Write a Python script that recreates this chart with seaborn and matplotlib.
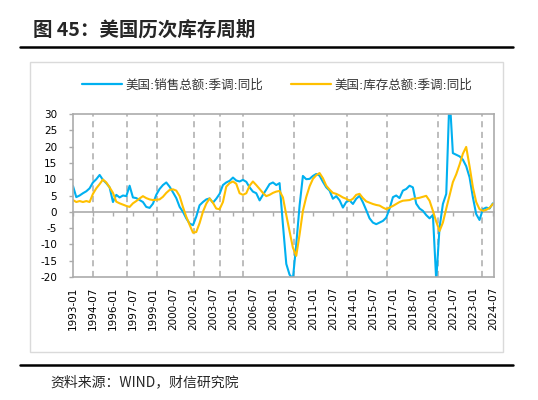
import numpy as np
import pandas as pd
import matplotlib
matplotlib.use('Agg')
import matplotlib.pyplot as plt
import matplotlib.dates as mdates
from matplotlib.lines import Line2D
import seaborn as sns

# квартальные точки: 1993-01 ... 2024-07
months = pd.date_range('1993-01-01', '2024-07-01', freq='3MS')

sales = [7.9, 4.5, 5.0, 5.7, 6.3, 7.2, 9.0, 10.0, 11.3, 9.8, 8.8, 7.5,
         3.0, 5.2, 4.4, 5.0, 4.8, 8.0, 4.4, 4.2, 3.6, 3.0, 1.5, 1.2,
         2.5, 5.2, 7.0, 8.2, 9.0, 7.7, 6.0, 4.2, 1.5, 0.0, -2.0, -3.6,
         -4.1, -1.5, 2.0, 3.0, 3.8, 4.1, 2.8, 4.0, 5.5, 8.2, 9.0, 9.5,
         10.5, 9.6, 9.3, 9.8, 9.2, 7.5, 6.2, 5.7, 3.5, 5.2, 6.8, 8.5,
         9.0, 8.2, 8.8, -4.0, -16.0, -19.3, -20.5, -10.0, 2.0, 11.0, 10.0, 10.1,
         11.0, 11.6, 11.1, 9.2, 7.5, 6.5, 4.0, 4.8, 3.5, 1.3, 3.0, 3.5,
         2.4, 4.0, 4.9, 2.9, 0.5, -2.0, -3.3, -3.8, -3.3, -2.8, -1.8, 1.0,
         4.5, 5.0, 4.2, 6.5, 7.0, 8.0, 7.5, 2.5, 1.0, 0.3, -1.0, -2.0,
         -1.0, -21.0, -4.8, 2.4, 5.5, 36.0, 18.0, 17.5, 17.0, 16.0, 14.0, 10.6,
         4.4, -0.7, -2.5, 0.8, 1.3, 1.0, 2.6]

stock = [3.6, 3.0, 3.3, 3.0, 3.3, 3.0, 5.5, 7.2, 8.5, 9.9, 9.0, 7.5,
         5.8, 3.1, 2.6, 2.2, 1.8, 1.5, 2.6, 3.3, 4.1, 4.8, 4.2, 3.8,
         3.6, 3.7, 3.8, 4.6, 5.8, 6.7, 6.9, 6.5, 4.8, 1.5, -1.5, -4.0,
         -6.4, -6.2, -3.5, 0.0, 2.5, 4.1, 2.8, 1.0, 0.8, 3.0, 7.7, 8.8,
         9.3, 8.6, 5.7, 5.2, 5.7, 8.0, 9.3, 8.2, 7.0, 5.8, 4.8, 5.2,
         5.8, 6.2, 6.4, 4.4, -1.0, -6.0, -11.0, -13.5, -6.9, 0.3, 4.5, 7.8,
         10.1, 11.2, 11.9, 10.3, 8.0, 6.8, 5.8, 5.5, 5.0, 4.4, 4.0, 3.4,
         4.0, 5.2, 5.5, 4.2, 3.2, 2.8, 2.4, 2.1, 1.9, 1.3, 0.8, 1.3,
         1.8, 2.4, 3.0, 3.4, 3.5, 3.6, 4.0, 4.1, 4.3, 4.6, 4.9, 3.4,
         0.3, -3.0, -5.9, -3.3, 1.0, 5.0, 9.1, 11.5, 14.5, 17.8, 19.9, 14.0,
         7.5, 3.0, 0.8, 0.3, 0.6, 1.2, 2.4]

# пунктирные линии - точки цикла
cycle_marks = ['1994-07', '1997-02', '1999-05', '2002-02', '2004-01', '2005-10',
               '2009-08', '2013-08', '2016-08', '2020-06', '2023-09']

tick_dates = pd.date_range('1993-01-01', '2024-07-01', freq='18MS')
y_ticks = [30, 25, 20, 15, 10, 5, 0, -5, -10, -15, -20]

name_sales = '美国:销售总额:季调:同比'
name_stock = '美国:库存总额:季调:同比'
blue = '#00B0F0'
yellow = '#FFC000'
grey = '#ABABAB'
W, H = 538, 400


def inventory_cycles():
    sns.set_theme(style='white')
    plt.rcParams['font.family'] = ['DejaVu Sans', 'Noto Sans CJK SC']
    plt.rcParams['axes.unicode_minus'] = False

    fig = plt.figure(figsize=(W / 100, H / 100), dpi=100)
    ax = fig.add_axes([73 / W, 1 - 277 / H, 421 / W, 163 / H])

    data = pd.DataFrame({'date': months, name_sales: sales, name_stock: stock})
    data = data.melt(id_vars='date', var_name='series', value_name='val')
    sns.lineplot(data=data, x='date', y='val', hue='series',
                 hue_order=[name_sales, name_stock], palette=[blue, yellow],
                 linewidth=1.5, legend=False, ax=ax)

    for d in cycle_marks:
        ax.axvline(pd.Timestamp(d + '-01'), color=grey, lw=1.1, dashes=(4, 3), zorder=0)

    ax.set_ylim(-20, 30)
    ax.set_xlim(pd.Timestamp('1993-01-01'), pd.Timestamp('2024-08-01'))
    ax.set_yticks(y_ticks)
    ax.set_xticks(tick_dates)
    ax.set_xticklabels([d.strftime('%Y-%m') for d in tick_dates])
    ax.set_xlabel('')
    ax.set_ylabel('')
    for s in ax.spines.values():
        s.set_color(grey)
        s.set_linewidth(1.2)
    ax.tick_params(axis='x', length=0, pad=7, labelrotation=90, labelsize=7.5, colors='black')
    ax.tick_params(axis='y', length=3, width=1, direction='out', color=grey,
                   pad=8.5, labelsize=7.5, labelcolor='black', left=True)

    # ось категорий пересекает ноль (как в excel)
    zero = ax.secondary_xaxis(0.4)
    zero.set_xticks(mdates.date2num(tick_dates))
    zero.tick_params(length=3, width=1, direction='out', color=grey, labelbottom=False)
    zero.spines['bottom'].set_color(grey)
    zero.spines['bottom'].set_linewidth(1.2)

    handles = [Line2D([], [], color=blue, lw=1.6), Line2D([], [], color=yellow, lw=1.6)]
    fig.legend(handles, [name_sales, name_stock], loc='center left',
               bbox_to_anchor=(82 / W, 1 - 85 / H), bbox_transform=fig.transFigure,
               ncol=2, frameon=False, fontsize=9, handlelength=3.2,
               handletextpad=0.3, columnspacing=2.2, borderpad=0, borderaxespad=0,
               labelcolor='#333333')

    # оформление страницы отчета
    fig.text(33 / W, 1 - 30 / H, '图 45：美国历次库存周期', fontsize=14, fontweight='bold',
             family=['Noto Sans CJK SC'], va='center', ha='left')
    fig.add_artist(Line2D([20 / W, 513 / W], [1 - 47 / H] * 2, color='black', lw=1.8))
    fig.add_artist(plt.Rectangle((30 / W, 1 - 352 / H), 473 / W, 290 / H, fill=False,
                                 ec='#DADADA', lw=1.0))
    fig.add_artist(Line2D([20 / W, 513 / W], [1 - 365 / H] * 2, color='black', lw=1.8))
    fig.text(50 / W, 1 - 382 / H, '资料来源：WIND，财信研究院', fontsize=10, style='italic',
             family=['Noto Sans CJK SC'], va='center', ha='left')

    fig.savefig('out.png', dpi=100)


if __name__ == '__main__':
    inventory_cycles()
